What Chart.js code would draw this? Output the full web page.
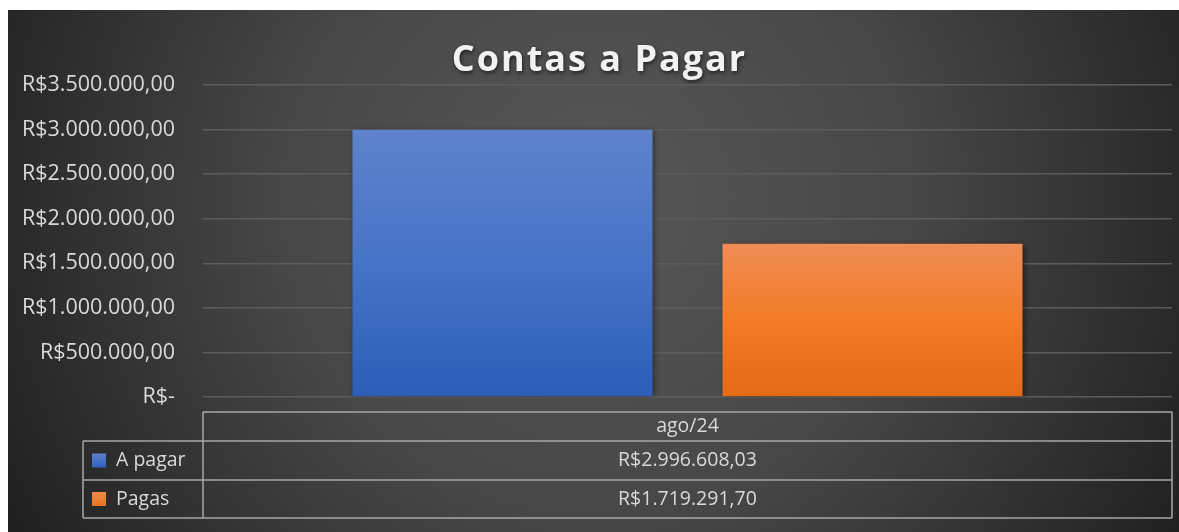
<!DOCTYPE html>
<html>
<head>
<meta charset="utf-8">
<script src="https://cdn.jsdelivr.net/npm/chart.js@4"></script>
<style>
  html, body { margin: 0; padding: 0; background: #fff; }
  #wrap { position: absolute; left: 8px; top: 10px; width: 1171px; height: 522px; }
</style>
</head>
<body>
<div id="wrap"><canvas id="Chart"></canvas></div>
<script>
const titulo = 'Contas a Pagar';
const categorias = ['ago/24'];
const series = ['A pagar', 'Pagas'];
const aPagar = [2996608.03];
const pagas = [1719291.70];
const yTicks = [0, 500000, 1000000, 1500000, 2000000, 2500000, 3000000, 3500000];

const fonte = '"Open Sans", sans-serif';
const corTexto = '#d9d9d9';

function moeda(v) {
  if (v === 0) return 'R$-';
  return 'R$' + new Intl.NumberFormat('pt-BR', { minimumFractionDigits: 2, maximumFractionDigits: 2 }).format(v);
}

function gradiente(ctx, area, top, mid, bottom) {
  const g = ctx.createLinearGradient(0, area.top, 0, area.bottom);
  g.addColorStop(0, top);
  g.addColorStop(0.5, mid);
  g.addColorStop(1, bottom);
  return g;
}

// fundo escuro radial + titulo
const fundo = {
  id: 'fundo',
  beforeDraw(chart) {
    const ctx = chart.ctx;
    const w = chart.width, h = chart.height;
    ctx.save();
    const g = ctx.createRadialGradient(590, 190, 0, 590, 190, 700);
    g.addColorStop(0, '#575757');
    g.addColorStop(0.45, '#474747');
    g.addColorStop(1, '#1d1d1d');
    ctx.fillStyle = g;
    ctx.fillRect(0, 0, w, h);
    ctx.font = 'bold 36px "Open Sans", sans-serif';
    ctx.letterSpacing = '2px';
    ctx.textAlign = 'center';
    ctx.textBaseline = 'alphabetic';
    ctx.shadowColor = 'rgba(0,0,0,0.6)';
    ctx.shadowBlur = 4;
    ctx.shadowOffsetX = 1;
    ctx.shadowOffsetY = 2;
    ctx.fillStyle = '#f2f2f2';
    ctx.fillText(titulo, w / 2 + 6, 61);
    ctx.restore();
  }
};

// sombra das barras
const sombra = {
  id: 'sombra',
  beforeDatasetsDraw(chart) {
    const ctx = chart.ctx;
    ctx.save();
    ctx.shadowColor = 'rgba(0,0,0,0.45)';
    ctx.shadowBlur = 6;
    ctx.shadowOffsetX = 2;
    ctx.shadowOffsetY = 1;
  },
  afterDatasetsDraw(chart) {
    chart.ctx.restore();
  }
};

// tabela de dados com legenda
const tabela = {
  id: 'tabela',
  afterDraw(chart) {
    const ctx = chart.ctx;
    const a = chart.chartArea;
    const xL = a.left, xR = a.right;
    const legL = 75;
    const y0 = a.bottom + 15, y1 = y0 + 29, y2 = y1 + 39, y3 = y2 + 38;
    ctx.save();
    ctx.strokeStyle = '#a6a6a6';
    ctx.lineWidth = 1.5;
    ctx.beginPath();
    ctx.moveTo(xL, y0); ctx.lineTo(xR, y0);
    ctx.moveTo(legL, y1); ctx.lineTo(xR, y1);
    ctx.moveTo(legL, y2); ctx.lineTo(xR, y2);
    ctx.moveTo(legL, y3); ctx.lineTo(xR, y3);
    ctx.moveTo(xL, y0); ctx.lineTo(xL, y3);
    ctx.moveTo(xR, y0); ctx.lineTo(xR, y3);
    ctx.moveTo(legL, y1); ctx.lineTo(legL, y3);
    ctx.stroke();

    ctx.font = '19.5px ' + fonte;
    ctx.fillStyle = corTexto;
    ctx.textBaseline = 'middle';
    ctx.textAlign = 'center';
    categorias.forEach((c, i) => {
      const x = chart.scales.x.getPixelForValue(i);
      ctx.fillText(c, x, (y0 + y1) / 2);
      chart.data.datasets.forEach((ds, j) => {
        const yy = j === 0 ? (y1 + y2) / 2 : (y2 + y3) / 2;
        ctx.fillText(moeda(ds.data[i]), x, yy);
      });
    });
    ctx.textAlign = 'left';
    const cores = [['#5b80cc', '#2f62bd'], ['#f28a4c', '#e8731f']];
    chart.data.datasets.forEach((ds, j) => {
      const yy = j === 0 ? (y1 + y2) / 2 : (y2 + y3) / 2;
      const g = ctx.createLinearGradient(0, yy - 7, 0, yy + 7);
      g.addColorStop(0, cores[j][0]);
      g.addColorStop(1, cores[j][1]);
      ctx.fillStyle = g;
      ctx.fillRect(legL + 9, yy - 7, 14, 14);
      ctx.fillStyle = corTexto;
      ctx.fillText(ds.label, legL + 33, yy);
    });
    ctx.restore();
  }
};

new Chart(document.getElementById('Chart'), {
  type: 'bar',
  data: {
    labels: categorias,
    datasets: [{
      label: series[0],
      data: aPagar,
      backgroundColor: (c) => c.chart.chartArea ? gradiente(c.chart.ctx, { top: c.chart.scales.y.getPixelForValue(aPagar[0]), bottom: c.chart.chartArea.bottom }, '#5f83cc', '#4673c6', '#2c5db8') : '#4472c4',
      borderWidth: 0
    }, {
      label: series[1],
      data: pagas,
      backgroundColor: (c) => c.chart.chartArea ? gradiente(c.chart.ctx, { top: c.chart.scales.y.getPixelForValue(pagas[0]), bottom: c.chart.chartArea.bottom }, '#f08c56', '#f37b27', '#e36a16') : '#ed7d31',
      borderWidth: 0
    }]
  },
  options: {
    responsive: true,
    maintainAspectRatio: false,
    animation: false,
    layout: { padding: { top: 75, right: 7, bottom: 135, left: 0 } },
    categoryPercentage: 0.7637,
    barPercentage: 0.8108,
    scales: {
      x: { display: false },
      y: {
        min: 0,
        max: 3500000,
        afterBuildTicks: (s) => { s.ticks = yTicks.map(v => ({ value: v })); },
        afterFit: (s) => { s.width = 195; },
        border: { display: false },
        grid: { color: '#5c5c5c', lineWidth: 1.5, drawTicks: false },
        ticks: {
          padding: 28,
          color: corTexto,
          font: { family: fonte, size: 21.5 },
          callback: (v) => moeda(v)
        }
      }
    },
    plugins: {
      legend: { display: false },
      tooltip: { enabled: false },
      title: { display: false }
    }
  },
  plugins: [fundo, sombra, tabela]
});
</script>
</body>
</html>
